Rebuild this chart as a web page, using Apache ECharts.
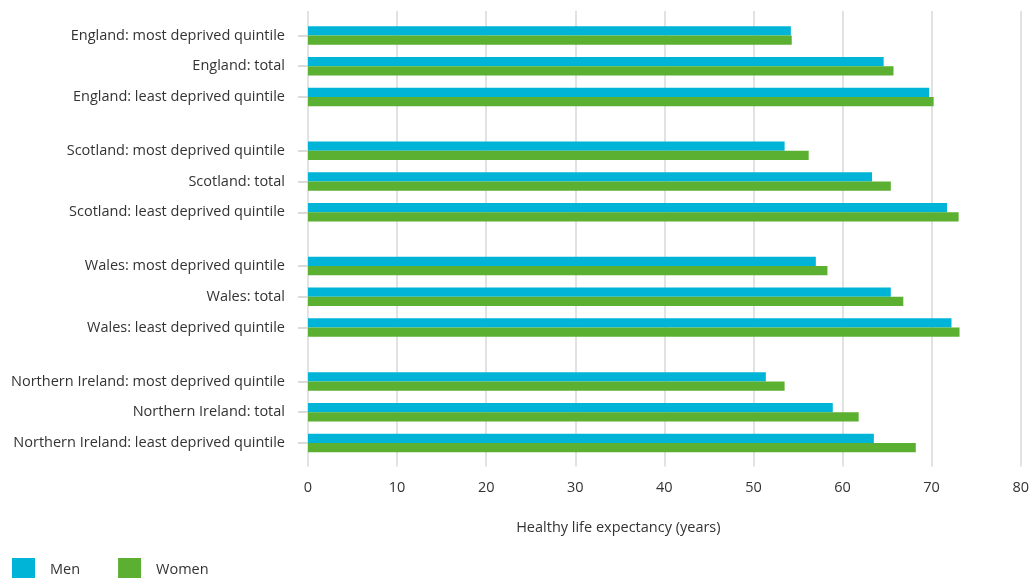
<!DOCTYPE html>
<html>
<head>
<meta charset="utf-8">
<script src="https://cdn.jsdelivr.net/npm/echarts@6/dist/echarts.min.js"></script>
<style>
html,body{margin:0;padding:0;background:#fff;}
#chart{width:1032px;height:578px;}
</style>
</head>
<body>
<div id="chart"></div>
<script>
const categories = [
  "England: most deprived quintile", "England: total", "England: least deprived quintile",
  "Scotland: most deprived quintile", "Scotland: total", "Scotland: least deprived quintile",
  "Wales: most deprived quintile", "Wales: total", "Wales: least deprived quintile",
  "Northern Ireland: most deprived quintile", "Northern Ireland: total", "Northern Ireland: least deprived quintile"
];
const men   = [54.1, 64.5, 69.6, 53.4, 63.2, 71.6, 56.9, 65.3, 72.1, 51.3, 58.8, 63.4];
const women = [54.2, 65.6, 70.1, 56.1, 65.3, 72.9, 58.2, 66.7, 73.0, 53.4, 61.7, 68.1];
const xTicks = [0, 10, 20, 30, 40, 50, 60, 70, 80];
const seriesNames = ["Men", "Women"];
const colors = ["#00B4D8", "#5BAF31"];

const FONT = "Open Sans";
const FS = 14.5;
const chart = echarts.init(document.getElementById('chart'));

const groupTops = [20, 135.3, 250.6, 366];
const groupH = 92.4;

const grids = [{left: 308, right: 10, top: 11, height: 455.5}];
const xAxes = [{
  gridIndex: 0, type: 'value', min: xTicks[0], max: xTicks[xTicks.length - 1], interval: 10,
  axisLine: {show: false}, axisTick: {show: false},
  splitLine: {show: true, lineStyle: {color: '#d9d9d9', width: 1.5}},
  axisLabel: {margin: 14, fontFamily: FONT, fontSize: FS, color: '#333'},
  name: 'Healthy life expectancy (years)', nameLocation: 'middle', nameGap: 54,
  nameTextStyle: {fontFamily: FONT, fontSize: FS, color: '#333', padding: [0, 92, 0, 0]}
}];
const yAxes = [{gridIndex: 0, type: 'value', show: false}];
const series = [];

for (let g = 0; g < 4; g++) {
  grids.push({left: 308, right: 10, top: groupTops[g], height: groupH});
  xAxes.push({gridIndex: g + 1, type: 'value', min: 0, max: 80, show: false, splitLine: {show: false}});
  yAxes.push({
    gridIndex: g + 1, type: 'category', inverse: true,
    data: categories.slice(g * 3, g * 3 + 3),
    axisLine: {show: false},
    axisTick: {show: true, alignWithLabel: true, length: 10, lineStyle: {color: '#d0d0d0', width: 1.5}},
    axisLabel: {margin: 23, fontFamily: FONT, fontSize: FS, color: '#333'}
  });
  [men, women].forEach((arr, i) => {
    series.push({
      name: seriesNames[i], type: 'bar', xAxisIndex: g + 1, yAxisIndex: g + 1,
      data: arr.slice(g * 3, g * 3 + 3),
      itemStyle: {color: colors[i]},
      barGap: '0%', barCategoryGap: '40%', animation: false
    });
  });
}

chart.setOption({
  animation: false,
  color: colors,
  grid: grids,
  xAxis: xAxes,
  yAxis: yAxes,
  legend: {
    data: seriesNames, left: 12, top: 558, padding: 0, itemWidth: 23, itemHeight: 23, itemGap: 38,
    icon: 'rect',
    textStyle: {fontFamily: FONT, fontSize: FS, color: '#333', padding: [0, 0, 0, 10]}
  },
  series: series
});
</script>
</body>
</html>
